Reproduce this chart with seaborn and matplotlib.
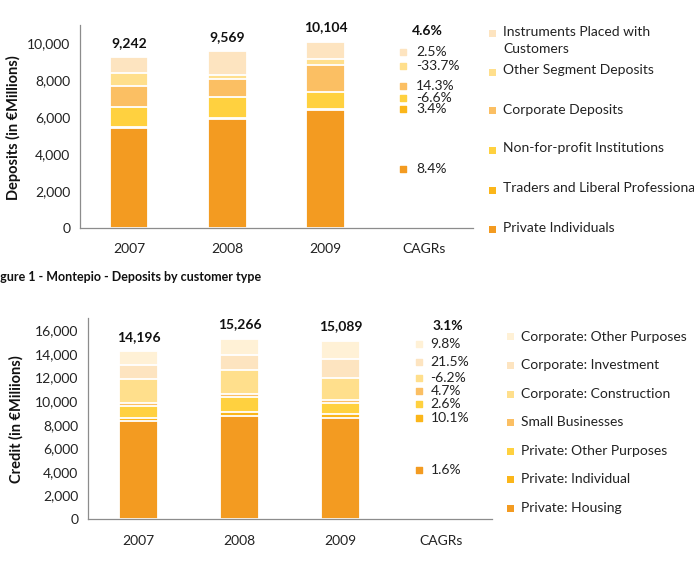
import numpy as np
import pandas as pd
import seaborn as sns
import matplotlib.pyplot as plt
from matplotlib.patches import Rectangle
from matplotlib.ticker import FuncFormatter

# ---------------- data ----------------
years = ["2007", "2008", "2009"]
categories = ["2007", "2008", "2009", "CAGRs"]

dep_series = ["Private Individuals", "Traders and Liberal Professionals",
              "Non-for-profit Institutions", "Corporate Deposits",
              "Other Segment Deposits", "Instruments Placed with\nCustomers"]
dep_private = [5430, 5900, 6380]
dep_traders = [60, 60, 64]
dep_nonprofit = [1045, 1150, 911]
dep_corporate = [1150, 957, 1502]
dep_other = [690, 250, 303]
dep_instruments = [867, 1252, 944]
dep_totals = ["9,242", "9,569", "10,104"]
dep_cagrs = ["8.4%", "3.4%", "-6.6%", "14.3%", "-33.7%", "2.5%"]
dep_total_cagr = "4.6%"

cr_series = ["Private: Housing", "Private: Individual", "Private: Other Purposes",
             "Small Businesses", "Corporate: Construction", "Corporate: Investment",
             "Corporate: Other Purposes"]
cr_housing = [8290, 8770, 8560]
cr_individual = [280, 336, 340]
cr_priv_other = [1000, 1200, 900]
cr_small = [250, 255, 275]
cr_construction = [2080, 2050, 1880]
cr_investment = [1120, 1290, 1640]
cr_corp_other = [1176, 1365, 1494]
cr_totals = ["14,196", "15,266", "15,089"]
cr_cagrs = ["1.6%", "10.1%", "2.6%", "4.7%", "-6.2%", "21.5%", "9.8%"]
cr_total_cagr = "3.1%"

# ---------------- style ----------------
dep_colors = ["#F39B21", "#FBB61A", "#FFD13F", "#FBBF63", "#FFDF8C", "#FDE4C0"]
cr_colors = ["#F39B21", "#FBB61A", "#FFD13F", "#FBBF63", "#FFDF8C", "#FDE4C0", "#FFF1D6"]

sns.set_style("white")
plt.rcParams["font.family"] = ["Lato", "DejaVu Sans"]
FS = 10
GRAY = "#8C8C8C"

fig = plt.figure(figsize=(6.94, 5.63), dpi=100)
ax1 = fig.add_axes([80 / 694, 1 - 228 / 563, 393 / 694, 203 / 563])
ax2 = fig.add_axes([88 / 694, 1 - 519.3 / 563, 404 / 694, 201 / 563])


def stacked(ax, layers, colors):
    cums = np.cumsum(np.array(layers, dtype=float), axis=0)
    for i in range(len(layers) - 1, -1, -1):
        df = pd.DataFrame({"year": years, "value": cums[i]})
        sns.barplot(data=df, x="year", y="value", order=categories, color=colors[i],
                    saturation=1, width=0.39, edgecolor="white", linewidth=1.3,
                    errorbar=None, ax=ax)
    return cums[-1]


def style_axis(ax, ymax, yticks):
    ax.set_xlim(-0.5, 3.5)
    ax.set_ylim(0, ymax)
    ax.set_yticks(yticks)
    ax.yaxis.set_major_formatter(FuncFormatter(lambda v, p: f"{int(v):,}"))
    ax.set_xticks(range(4))
    ax.set_xticklabels(categories)
    ax.set_xticks([-0.5, 0.5, 1.5, 2.5, 3.5], minor=True)
    ax.tick_params(axis="x", which="major", length=0, pad=11, labelsize=FS, labelcolor="#222222")
    ax.tick_params(axis="x", which="minor", length=5, direction="out", color=GRAY, width=0.8)
    ax.tick_params(axis="y", length=4, direction="out", color=GRAY, width=0.8,
                   labelsize=FS, labelcolor="#222222", pad=3)
    ax.set_xlabel("")
    ax.set_ylabel("")
    for s in ["top", "right"]:
        ax.spines[s].set_visible(False)
    for s in ["left", "bottom"]:
        ax.spines[s].set_color(GRAY)
        ax.spines[s].set_linewidth(0.9)


# ---------------- top chart ----------------
dep_layers = [dep_private, dep_traders, dep_nonprofit, dep_corporate, dep_other, dep_instruments]
tot1 = stacked(ax1, dep_layers, dep_colors)
style_axis(ax1, 11000, [0, 2000, 4000, 6000, 8000, 10000])
for i, (t, lab) in enumerate(zip(tot1, dep_totals)):
    ax1.annotate(lab, (i, t), xytext=(0, 6), textcoords="offset points", ha="center",
                 va="bottom", fontsize=FS, fontweight="bold", color="#111111")

# CAGR column (layout positions in data units)
dep_cagr_y = [3194, 6440, 7070, 7688, 8771, 9529]
ax1.text(3.04, 10666, dep_total_cagr, ha="center", va="center", fontsize=FS,
         fontweight="bold", color="#111111")
for lab, yy, col in zip(dep_cagrs, dep_cagr_y, dep_colors):
    ax1.scatter([2.79], [yy], marker="s", s=22, color=col, clip_on=False, zorder=5)
    ax1.text(2.92, yy, lab, ha="left", va="center", fontsize=FS, color="#222222")

# legend (top)
dep_leg_y = [33, 72, 111, 150, 190, 229]
for idx, (lab, col) in enumerate(zip(dep_series[::-1], dep_colors[::-1])):
    yy = dep_leg_y[idx]
    fig.add_artist(Rectangle((489 / 694, 1 - (yy + 3.5) / 563), 7 / 694, 7 / 563,
                             transform=fig.transFigure, color=col, lw=0))
    fig.text(503 / 694, 1 - (yy - 7.5) / 563, lab, ha="left", va="top", fontsize=FS,
             color="#222222", linespacing=1.55)

fig.text(13 / 694, 1 - 128 / 563, "Deposits (in €Millions)", rotation=90, ha="center",
         va="center", fontsize=10.5, fontweight="bold", color="#111111")

# caption
fig.text(-10 / 694, 1 - 277 / 563, "Figure 1 - Montepio - Deposits by customer type",
         ha="left", va="center", fontsize=9, fontweight="bold", color="#111111")

# ---------------- bottom chart ----------------
cr_layers = [cr_housing, cr_individual, cr_priv_other, cr_small, cr_construction,
             cr_investment, cr_corp_other]
tot2 = stacked(ax2, cr_layers, cr_colors)
style_axis(ax2, 17000, list(range(0, 16001, 2000)))
for i, (t, lab) in enumerate(zip(tot2, cr_totals)):
    ax2.annotate(lab, (i, t), xytext=(0, 6), textcoords="offset points", ha="center",
                 va="bottom", fontsize=FS, fontweight="bold", color="#111111")

cr_cagr_y = [4146, 8604, 9781, 10875, 11968, 13314, 14828]
ax2.text(3.06, 16341, cr_total_cagr, ha="center", va="center", fontsize=FS,
         fontweight="bold", color="#111111")
for lab, yy, col in zip(cr_cagrs, cr_cagr_y, cr_colors):
    ax2.scatter([2.78], [yy], marker="s", s=22, color=col, clip_on=False, zorder=5)
    ax2.text(2.89, yy, lab, ha="left", va="center", fontsize=FS, color="#222222")

cr_leg_y = [336.7, 365, 394, 422, 451, 479, 508]
for idx, (lab, col) in enumerate(zip(cr_series[::-1], cr_colors[::-1])):
    yy = cr_leg_y[idx]
    fig.add_artist(Rectangle((507 / 694, 1 - (yy + 3.5) / 563), 7 / 694, 7 / 563,
                             transform=fig.transFigure, color=col, lw=0))
    fig.text(521 / 694, 1 - yy / 563, lab, ha="left", va="center", fontsize=FS,
             color="#222222")

fig.text(16 / 694, 1 - 419 / 563, "Credit (in €Miliions)", rotation=90, ha="center",
         va="center", fontsize=10.5, fontweight="bold", color="#111111")

fig.savefig("out.png", dpi=100, facecolor="white")
